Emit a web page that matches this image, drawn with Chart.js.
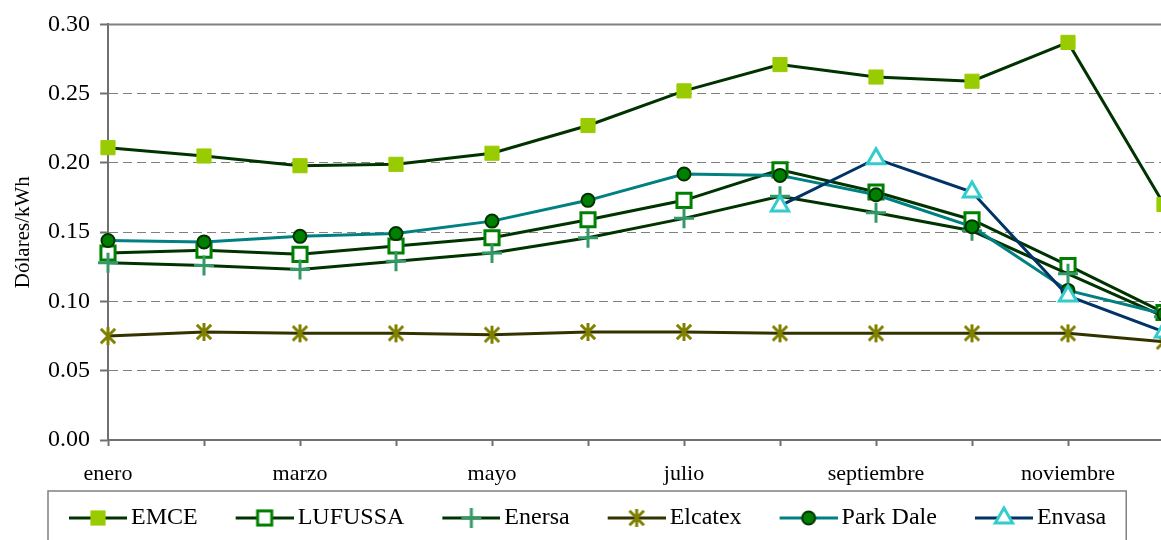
<!DOCTYPE html>
<html>
<head>
<meta charset="utf-8">
<script src="https://cdn.jsdelivr.net/npm/chart.js@4.4.0/dist/chart.umd.min.js"></script>
<style>
  html, body { margin: 0; padding: 0; background: #fff; overflow: hidden; }
  #wrap { width: 1203px; height: 540px; }
</style>
</head>
<body>
<div id="wrap"><canvas id="chart" width="1203" height="540"></canvas></div>
<script>
// data
const months = ['enero', 'febrero', 'marzo', 'abril', 'mayo', 'junio', 'julio', 'agosto', 'septiembre', 'octubre', 'noviembre', 'diciembre'];
const shownMonths = ['enero', 'marzo', 'mayo', 'julio', 'septiembre', 'noviembre'];
const seriesNames = ['EMCE', 'LUFUSSA', 'Enersa', 'Elcatex', 'Park Dale', 'Envasa'];

const emce     = [0.211, 0.205, 0.198, 0.199, 0.207, 0.227, 0.252, 0.271, 0.262, 0.259, 0.287, 0.170];
const lufussa  = [0.135, 0.137, 0.134, 0.140, 0.146, 0.159, 0.173, 0.195, 0.179, 0.159, 0.126, 0.092];
const enersa   = [0.128, 0.126, 0.123, 0.129, 0.135, 0.146, 0.160, 0.176, 0.164, 0.151, 0.120, 0.089];
const elcatex  = [0.075, 0.078, 0.077, 0.077, 0.076, 0.078, 0.078, 0.077, 0.077, 0.077, 0.077, 0.071];
const parkDale = [0.144, 0.143, 0.147, 0.149, 0.158, 0.173, 0.192, 0.191, 0.177, 0.154, 0.108, 0.091];
const envasa   = [null, null, null, null, null, null, null, 0.169, 0.203, 0.179, 0.104, 0.078];

const yMin = 0;
const yMax = 0.30;
const yStep = 0.05;

const FONT = "'Liberation Serif', 'Times New Roman', serif";

// marker for Elcatex: an asterisk (X plus vertical bar)
function asteriskImage(size, color) {
    const c = document.createElement('canvas');
    c.width = size; c.height = size;
    const g = c.getContext('2d');
    const m = size / 2, r = size / 2 - 2;
    g.strokeStyle = color;
    g.lineWidth = 3;
    g.beginPath();
    g.moveTo(m, m - r); g.lineTo(m, m + r);
    g.moveTo(m - r * 0.8, m - r * 0.8); g.lineTo(m + r * 0.8, m + r * 0.8);
    g.moveTo(m - r * 0.8, m + r * 0.8); g.lineTo(m + r * 0.8, m - r * 0.8);
    g.stroke();
    return c;
}

const starMarker = asteriskImage(22, '#808000');

const styles = [
    { line: '#003300', marker: 'rect', radius: 10, fill: '#99CC00', stroke: '#99CC00', bw: 1 },
    { line: '#003300', marker: 'rect', radius: 10, fill: '#ffffff', stroke: '#008000', bw: 3 },
    { line: '#003300', marker: 'cross', radius: 10, fill: '#339966', stroke: '#339966', bw: 3 },
    { line: '#333300', marker: starMarker, radius: 10, fill: '#808000', stroke: '#808000', bw: 3 },
    { line: '#008080', marker: 'circle', radius: 6.5, fill: '#008000', stroke: '#003300', bw: 2 },
    { line: '#003366', marker: 'triangle', radius: 10, fill: '#ffffff', stroke: '#33CCCC', bw: 3 },
];

// legend sample: line with the marker on it (transparent gap on the left)
function legendSymbol(s) {
    const c = document.createElement('canvas');
    c.width = 86; c.height = 26;
    const g = c.getContext('2d');
    const cx = 57, cy = 13;
    g.strokeStyle = s.line;
    g.lineWidth = 3;
    g.beginPath(); g.moveTo(28, cy); g.lineTo(86, cy); g.stroke();
    g.lineWidth = s.bw;
    g.strokeStyle = s.stroke;
    g.fillStyle = s.fill;
    if (s.marker === 'rect') {
        const h = s.radius * Math.SQRT1_2;
        g.fillRect(cx - h, cy - h, 2 * h, 2 * h);
        g.strokeRect(cx - h, cy - h, 2 * h, 2 * h);
    } else if (s.marker === 'cross') {
        g.beginPath();
        g.moveTo(cx - s.radius, cy); g.lineTo(cx + s.radius, cy);
        g.moveTo(cx, cy - s.radius); g.lineTo(cx, cy + s.radius);
        g.stroke();
    } else if (s.marker === 'circle') {
        g.beginPath(); g.arc(cx, cy, s.radius, 0, Math.PI * 2);
        g.fill(); g.stroke();
    } else if (s.marker === 'triangle') {
        const r = s.radius;
        g.beginPath();
        g.moveTo(cx, cy - r);
        g.lineTo(cx + r * Math.sin(Math.PI * 2 / 3), cy - r * Math.cos(Math.PI * 2 / 3));
        g.lineTo(cx + r * Math.sin(Math.PI * 4 / 3), cy - r * Math.cos(Math.PI * 4 / 3));
        g.closePath();
        g.fill(); g.stroke();
    } else {
        g.drawImage(s.marker, cx - s.marker.width / 2, cy - s.marker.height / 2);
    }
    return c;
}

const values = [emce, lufussa, enersa, elcatex, parkDale, envasa];

const datasets = values.map((data, i) => {
    const s = styles[i];
    return {
        label: seriesNames[i],
        data: data,
        borderColor: s.line,
        backgroundColor: s.line,
        borderWidth: 3,
        tension: 0,
        spanGaps: false,
        pointStyle: s.marker,
        pointRadius: s.radius,
        pointHoverRadius: s.radius,
        pointBackgroundColor: s.fill,
        pointBorderColor: s.stroke,
        pointBorderWidth: s.bw,
        order: values.length - i,
    };
});

const symbols = styles.map(legendSymbol);

const framePlugin = {
    id: 'frame',
    beforeDatasetsDraw(chart) {
        const { ctx, chartArea: a } = chart;
        ctx.save();
        ctx.strokeStyle = '#808080';
        ctx.lineWidth = 2;
        ctx.beginPath();
        ctx.moveTo(a.left, a.top);
        ctx.lineTo(a.right, a.top);
        ctx.stroke();
        ctx.restore();
    },
    afterDraw(chart) {
        const lg = chart.legend;
        const boxes = lg.legendHitBoxes;
        if (!boxes || !boxes.length) return;
        const last = boxes[boxes.length - 1];
        const left = boxes[0].left - 1;
        const right = last.left + last.width + 20;
        const top = lg.top + 3;
        const ctx = chart.ctx;
        ctx.save();
        ctx.strokeStyle = '#808080';
        ctx.lineWidth = 1.5;
        ctx.strokeRect(left, top, right - left, chart.height + 10 - top);
        ctx.restore();
    }
};

new Chart(document.getElementById('chart'), {
    type: 'line',
    data: { labels: months, datasets: datasets },
    plugins: [framePlugin],
    options: {
        responsive: false,
        animation: false,
        devicePixelRatio: 1,
        layout: { padding: { left: 31, right: 39, top: 20, bottom: 0 } },
        plugins: {
            tooltip: { enabled: false },
            legend: {
                position: 'bottom',
                align: 'start',
                labels: {
                    usePointStyle: true,
                    pointStyleWidth: 70,
                    padding: 18,
                    color: '#000',
                    font: { family: FONT, size: 24 },
                    generateLabels: chart => chart.data.datasets.map((ds, i) => ({
                        text: ds.label,
                        pointStyle: symbols[i],
                        datasetIndex: i,
                        fontColor: '#000',
                        lineWidth: 0,
                        strokeStyle: 'rgba(0,0,0,0)',
                        fillStyle: 'rgba(0,0,0,0)',
                        hidden: false,
                    })),
                },
            },
        },
        scales: {
            x: {
                grid: {
                    drawOnChartArea: false,
                    tickLength: 6,
                    tickColor: '#707070',
                    tickWidth: 2,
                },
                border: { color: '#707070', width: 2 },
                ticks: {
                    autoSkip: false,
                    maxRotation: 0,
                    padding: 15,
                    color: '#000',
                    font: { family: FONT, size: 22 },
                    callback: (v, i) => shownMonths.includes(months[i]) ? months[i] : '',
                },
                afterFit: s => { s.height = 48; },
            },
            y: {
                min: yMin,
                max: yMax,
                grid: { color: '#808080', lineWidth: 1, tickLength: 8, tickColor: '#707070', tickWidth: 2 },
                border: { color: '#707070', width: 2, dash: [9, 5] },
                ticks: {
                    stepSize: yStep,
                    padding: 10,
                    color: '#000',
                    font: { family: FONT, size: 24 },
                    callback: v => v.toFixed(2),
                },
                title: {
                    display: true,
                    text: 'Dólares/kWh',
                    color: '#000',
                    font: { family: FONT, size: 21 },
                    padding: { top: -20, bottom: 0 },
                },
                afterFit: s => { s.width = 77; },
            },
        },
    },
});
</script>
</body>
</html>
